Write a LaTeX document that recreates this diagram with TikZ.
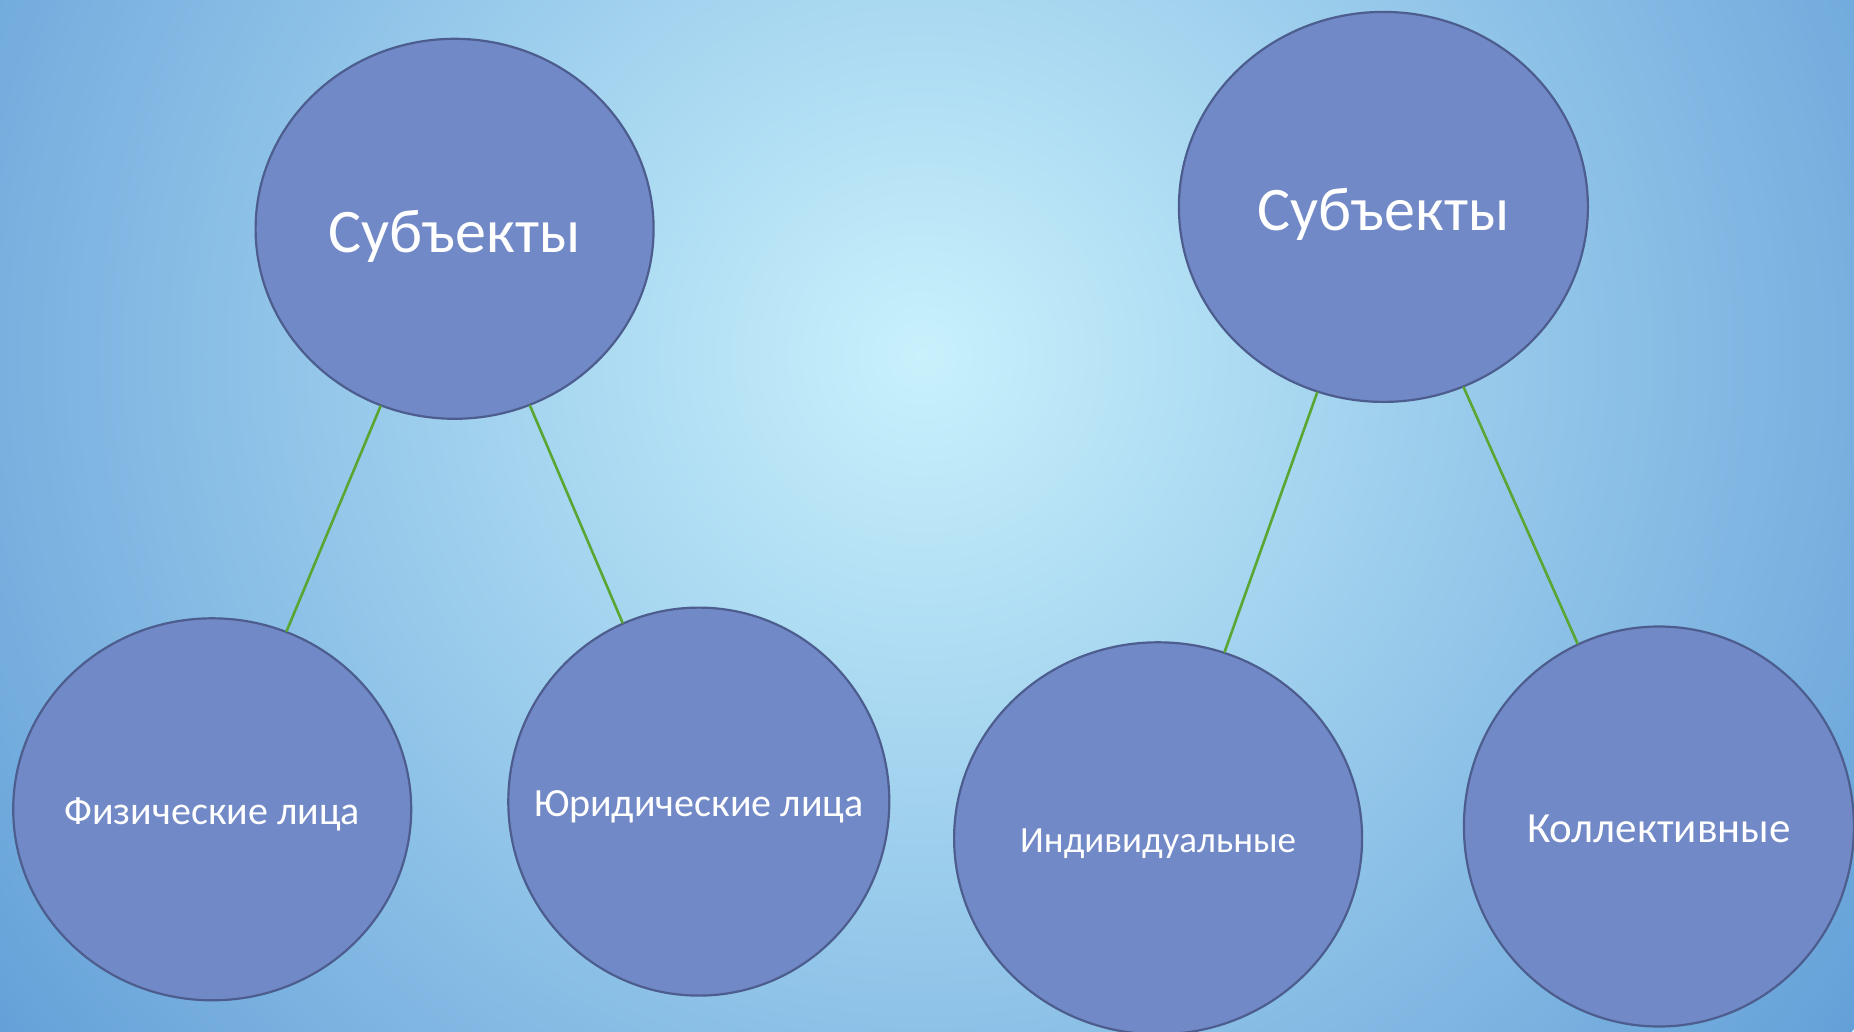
\documentclass[tikz,border=0pt]{standalone}
\usepackage{fontspec}
\setmainfont{Carlito}
\usetikzlibrary{shapes.geometric}
\definecolor{bgin}{HTML}{C8F1FC}
\definecolor{bgout}{HTML}{64A0D8}
\definecolor{ovfill}{HTML}{7289C7}
\definecolor{ovline}{HTML}{4C5D8E}
\definecolor{lien}{HTML}{5AA632}
\pgfdeclareradialshading{fond}{\pgfpoint{0bp}{0bp}}{color(0bp)=(bgin); color(25bp)=(bgout); color(50bp)=(bgout)}
\newcommand{\etiq}[1]{\raisebox{-0.38em}[0pt][0pt]{\makebox[0pt]{#1}}}
\tikzset{
  ov/.style={ellipse, draw=ovline, line width=2.2pt, fill=ovfill, inner sep=0pt,
    text=white},
  lien/.style={draw=lien, line width=2.6pt}
}
\begin{document}
\begin{tikzpicture}[line cap=round,line join=round,x=1pt,y=-1pt]
	\useasboundingbox (0,0) rectangle (1854,1031);
	%fond
	\begin{scope}
		\clip (0,0) rectangle (1854,1031);
		\shade[shading=fond] (922,355) circle (1150);
	\end{scope}
	%Noeuds du haut
	\node[ov, minimum width=398, minimum height=380, font=\fontsize{62}{70}\selectfont] (subA) at (454.6,228.8) {\etiq{Субъекты}};
	\node[ov, minimum width=409, minimum height=390, font=\fontsize{62}{70}\selectfont] (subB) at (1383.4,206.9) {\etiq{Субъекты}};
	%Noeuds du bas
	\node[ov, minimum width=398, minimum height=382, font=\fontsize{40}{46}\selectfont] (fiz) at (212.2,809.3) {\etiq{Физические лица}};
	\node[ov, minimum width=381, minimum height=388, font=\fontsize{40}{46}\selectfont] (yur) at (698.8,801.6) {\etiq{Юридические лица}};
	\node[ov, minimum width=408, minimum height=392, font=\fontsize{37}{44}\selectfont] (ind) at (1158.1,838.3) {\etiq{Индивидуальные}};
	\node[ov, minimum width=390, minimum height=400, font=\fontsize{43}{50}\selectfont] (kol) at (1658.9,826.5) {\etiq{Коллективные}};
	%liens
	\draw[lien] (subA) -- (fiz);
	\draw[lien] (subA) -- (yur);
	\draw[lien] (subB) -- (ind);
	\draw[lien] (subB) -- (kol);
\end{tikzpicture}
\end{document}
